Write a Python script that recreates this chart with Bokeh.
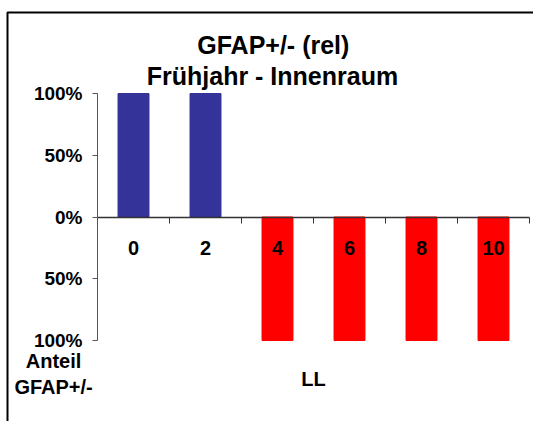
from bokeh.plotting import figure
from bokeh.models import Range1d, FixedTicker, Label, ColumnDataSource
from bokeh.core.properties import value
from bokeh.embed import file_html
from bokeh.resources import INLINE

categories = ["0", "2", "4", "6", "8", "10"]
values = [100, 100, -100, -100, -100, -100]
y_ticks = [100, 50, 0, -50, -100]
y_tick_labels = ["100%", "50%", "0%", "50%", "100%"]
title_lines = ["GFAP+/-  (rel)", "Frühjahr - Innenraum"]
y_label_lines = ["Anteil", "GFAP+/-"]
x_label = "LL"

BLUE = "#333399"
RED = "#FF0000"
FONT = "Liberation Sans"

W, H = 533, 421
n = len(categories)
xs = [i + 0.5 for i in range(n)]
colors = [BLUE if v >= 0 else RED for v in values]
src = ColumnDataSource(dict(x=xs, top=values, color=colors, label=categories))

x_range = Range1d(-97 / 72, n + (W - 529) / 72)
y_range = Range1d(-100 - (H - 340) / 1.235, 100 + 93 / 1.235)

# frame covers the whole canvas; axes are pinned inside it
p = figure(width=W, height=H, output_backend="svg", toolbar_location=None,
           x_range=x_range, y_range=y_range, min_border=0)
p.outline_line_color = None
p.grid.visible = False
p.background_fill_color = "white"
p.border_fill_color = "white"
p.title.visible = False

# outer frame of the chart area (only left and top edges are visible)
p.line(x=[-1.25, -1.25, x_range.end], y=[y_range.start, 165.5, 165.5],
       line_color="black", line_width=2)

p.vbar(x="x", top="top", bottom=0, width=0.43, color="color", source=src)

p.text(x="x", y=-25, text="label", source=src, text_font=value(FONT),
       text_font_style="bold", text_font_size="20px", text_align="center",
       text_baseline="middle", text_color="black")

ya = p.yaxis[0]
ya.fixed_location = 0
ya.bounds = (min(y_ticks), max(y_ticks))
ya.ticker = FixedTicker(ticks=y_ticks)
ya.major_label_overrides = {t: l for t, l in zip(y_ticks, y_tick_labels)}
ya.major_label_text_font = FONT
ya.major_label_text_font_style = "bold"
ya.major_label_text_font_size = "19px"
ya.major_label_text_color = "black"
ya.major_tick_in = 0
ya.major_tick_out = 5
ya.minor_tick_line_color = None
ya.axis_line_color = "#555555"
ya.major_tick_line_color = "#555555"
ya.major_label_standoff = 10

bounds = list(range(n + 1))
xa = p.xaxis[0]
xa.fixed_location = 0
xa.bounds = (0, n)
xa.ticker = FixedTicker(ticks=bounds)
xa.major_label_overrides = {b: "" for b in bounds}
xa.major_tick_in = 0
xa.major_tick_out = 6
xa.minor_tick_line_color = None
xa.axis_line_color = "#333333"
xa.axis_line_width = 1.5
xa.major_tick_line_color = "#333333"

def add_text(txt, x, y, size):
    p.add_layout(Label(x=x, y=y, text=txt, text_font=FONT, text_font_style="bold",
                       text_font_size=size, text_align="center",
                       text_baseline="middle", text_color="black"))

add_text(title_lines[0], 2.49, 139, "25px")
add_text(title_lines[1], 2.43, 114, "25px")
add_text(y_label_lines[0], -0.61, -117, "20px")
add_text(y_label_lines[1], -0.61, -138, "20px")
add_text(x_label, n / 2, -131, "20px")

open("out.html", "w").write(file_html(p, INLINE))
